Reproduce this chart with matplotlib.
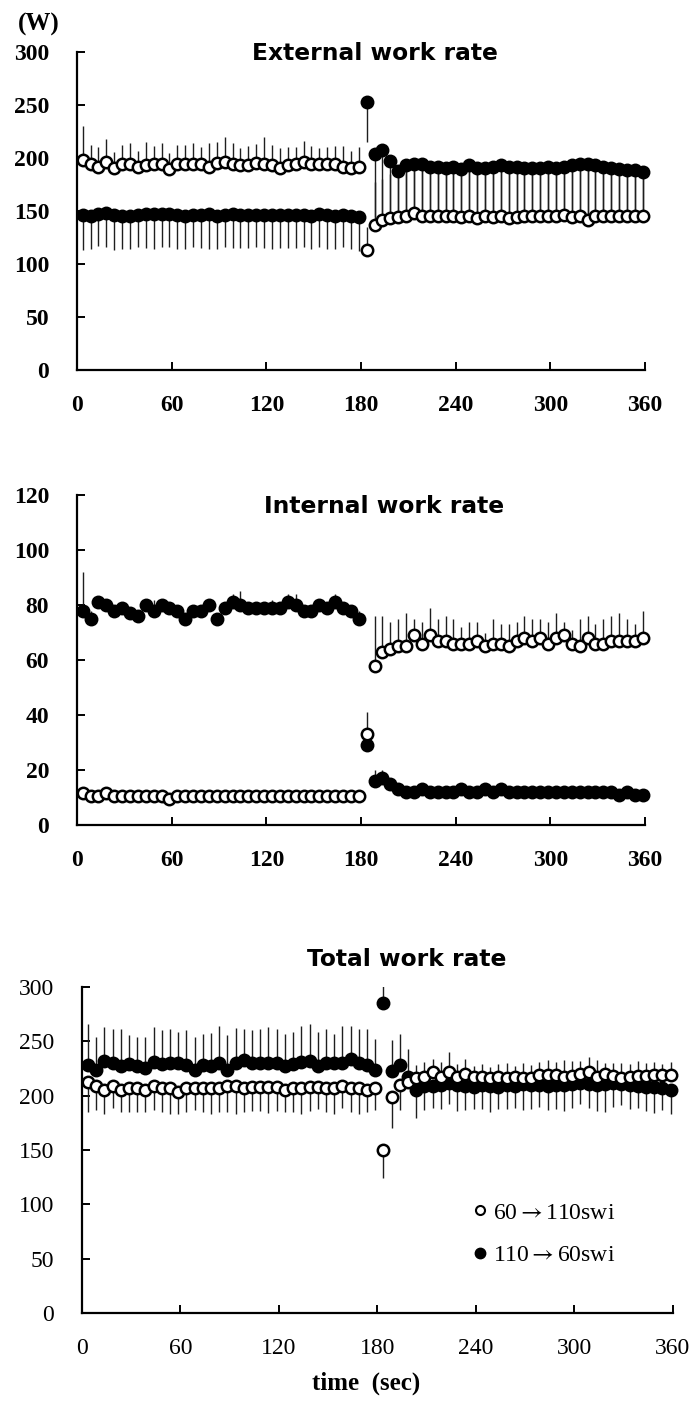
import matplotlib.pyplot as plt
import numpy as np
from matplotlib.lines import Line2D

plt.rcParams['font.family'] = ['Liberation Serif', 'DejaVu Serif']
plt.rcParams['mathtext.fontset'] = 'stix'

# sampling times (s), one point every 5 s
time_s = np.arange(3.6, 360, 5)

# External work rate (W); sd > 0 drawn upward, sd < 0 drawn downward
ext_open = [198, 194, 192, 196, 191, 194, 194, 192, 193, 194, 194, 190, 194, 194, 194, 194, 192, 195,
            196, 194, 193, 193, 195, 194, 193, 191, 193, 194, 196, 194, 194, 194, 194, 192, 191, 192,
            113, 137, 142, 143, 144, 145, 148, 145, 145, 145, 145, 145, 144, 145, 143, 145, 144, 145,
            143, 144, 145, 145, 145, 145, 145, 146, 144, 145, 142, 145, 145, 145, 145, 145, 145, 145]
ext_open_sd = [32, 18, 18, 22, 15, 18, 20, 15, 22, 17, 20, 15, 18, 18, 20, 16, 22, 20,
               24, 20, 16, 18, 18, 26, 19, 18, 17, 16, 20, 17, 15, 16, 17, 19, 16, 18,
               22, 40, 38, 42, 44, 45, 44, 46, 45, 46, 44, 45, 46, 45, 47, 45, 46, 45,
               47, 46, 45, 46, 45, 46, 45, 44, 46, 45, 47, 45, 44, 45, 44, 43, 42, 42]
ext_fill = [146, 145, 147, 148, 146, 145, 145, 146, 147, 147, 147, 147, 146, 145, 146, 146, 147, 145,
            146, 147, 146, 146, 146, 146, 146, 146, 146, 146, 146, 145, 147, 146, 145, 146, 145, 144,
            253, 204, 208, 197, 188, 193, 194, 194, 192, 192, 191, 192, 190, 193, 191, 191, 192, 193,
            192, 192, 191, 191, 191, 192, 191, 192, 193, 194, 194, 193, 192, 191, 190, 189, 189, 187]
ext_fill_sd = [-33, -31, -30, -32, -33, -31, -31, -30, -32, -33, -31, -31, -32, -31, -30, -31, -33, -31,
               -30, -32, -31, -31, -30, -31, -32, -31, -31, -31, -30, -31, -31, -32, -31, -30, -31, -32,
               -38, -60, -62, -52, -45, -48, -48, -48, -47, -47, -46, -47, -45, -48, -46, -46, -47, -48,
               -47, -47, -46, -46, -46, -47, -46, -47, -48, -49, -49, -48, -47, -46, -45, -44, -44, -42]

# Internal work rate (W)
int_open = [11.5, 10.5, 10.5, 11.5, 10.5, 10.5, 10.5, 10.5, 10.5, 10.5, 10.5, 9.5, 10.5, 10.5, 10.5, 10.5, 10.5, 10.5,
            10.5, 10.5, 10.5, 10.5, 10.5, 10.5, 10.5, 10.5, 10.5, 10.5, 10.5, 10.5, 10.5, 10.5, 10.5, 10.5, 10.5, 10.5,
            33, 58, 63, 64, 65, 65, 69, 66, 69, 67, 67, 66, 66, 66, 67, 65, 66, 66,
            65, 67, 68, 67, 68, 66, 68, 69, 66, 65, 68, 66, 66, 67, 67, 67, 67, 68]
int_open_sd = [1, 0, 0, 1, 0, 0, 0, 0, 0, 0, 0, 0, 0, 0, 0, 0, 0, 0,
               0, 0, 0, 0, 0, 0, 0, 0, 0, 0, 0, 0, 0, 0, 0, 0, 0, 0,
               8, 18, 13, 10, 10, 12, 6, 8, 10, 8, 9, 9, 6, 8, 7, 5, 9, 7,
               8, 7, 8, 8, 7, 8, 9, 5, 5, 10, 8, 7, 9, 9, 10, 8, 6, 10]
int_fill = [78, 75, 81, 80, 78, 79, 77, 76, 80, 78, 80, 79, 78, 75, 78, 78, 80, 75,
            79, 81, 80, 79, 79, 79, 79, 79, 81, 80, 78, 78, 80, 79, 81, 79, 78, 75,
            29, 16, 17, 15, 13, 12, 12, 13, 12, 12, 12, 12, 13, 12, 12, 13, 12, 13,
            12, 12, 12, 12, 12, 12, 12, 12, 12, 12, 12, 12, 12, 12, 11, 12, 11, 11]
int_fill_sd = [14, 3, 1, 1, 1, 1, 1, 1, 1, 4, 1, 1, 1, 1, 1, 1, 1, 1,
               1, 3, 5, 2, 2, 2, 3, 1, 3, 4, 1, 1, 2, 2, 3, 2, 1, 3,
               0, 4, 3, 1, 0, 0, 0, 0, 0, 0, 0, 0, 0, 0, 0, 0, 0, 0,
               0, 0, 0, 0, 0, 0, 0, 0, 0, 0, 0, 0, 0, 0, 0, 0, 0, 0]

# Total work rate (W)
tot_open = [213, 209, 205, 209, 205, 207, 207, 205, 209, 207, 207, 203, 207, 207, 207, 207, 207, 209,
            209, 207, 208, 208, 208, 208, 205, 207, 207, 208, 208, 207, 207, 209, 207, 207, 205, 207,
            150, 199, 210, 213, 216, 217, 222, 217, 222, 217, 220, 217, 217, 216, 217, 216, 217, 216,
            216, 219, 219, 219, 217, 218, 220, 222, 217, 220, 218, 216, 217, 218, 218, 219, 219, 219]
tot_open_sd = [-28, -22, -22, -20, -20, -22, -22, -20, -22, -22, -24, -20, -22, -20, -22, -24, -22, -24,
               -26, -22, -22, -22, -24, -22, -20, -22, -24, -22, -20, -22, -24, -20, -22, -24, -20, -20,
               -26, -29, -23, 10, 12, 14, 12, 14, 18, 12, 14, 10, 12, 10, 12, 14, 10, 14,
               12, 12, 14, 12, 16, 14, 12, 14, 16, 10, 12, 14, 12, 14, 12, 12, 10, 12]
tot_fill = [228, 224, 232, 230, 227, 229, 227, 225, 231, 229, 230, 230, 228, 224, 228, 227, 230, 224,
            230, 233, 230, 230, 230, 230, 227, 229, 231, 232, 227, 230, 230, 230, 234, 230, 228, 224,
            285, 223, 228, 217, 205, 209, 209, 210, 212, 210, 209, 208, 210, 209, 208, 210, 209, 211,
            210, 210, 209, 210, 210, 211, 212, 211, 210, 211, 212, 211, 210, 209, 208, 208, 207, 205]
tot_fill_sd = [38, 30, 31, 31, 34, 27, 27, 29, 32, 31, 31, 29, 32, 30, 29, 31, 34, 32,
               32, 28, 30, 31, 33, 31, 30, 30, 33, 34, 32, 31, 27, 34, 30, 31, 33, 28,
               21, 28, 29, 26, -26, -22, -20, -22, -20, -24, -22, -20, -22, -24, -20, -22, -20, -24,
               -22, -20, -22, -22, -24, -22, -20, -22, -24, -26, -22, -20, -22, -20, -22, -24, -20, -22]

legend_labels = [r'60$\rightarrow$110swi', r'110$\rightarrow$60swi']
x_ticks = [0, 60, 120, 180, 240, 300, 360]

SANS = ['DejaVu Sans']


def draw_panel(ax, open_y, open_sd, fill_y, fill_sd, ymax, ystep, title, title_xy, tick_weight):
    for y, sd in [(open_y, open_sd), (fill_y, fill_sd)]:
        sd = np.asarray(sd, dtype=float)
        lo = np.clip(-sd, 0, None)
        hi = np.clip(sd, 0, None)
        ax.errorbar(time_s, y, yerr=[lo, hi], fmt='none', ecolor='#1e1e1e',
                    elinewidth=1.0, capsize=0, zorder=2)
    ax.plot(time_s, fill_y, 'o', ms=8.8, mfc='black', mec='black', mew=1.2,
            zorder=3, clip_on=False)
    ax.plot(time_s, open_y, 'o', ms=8.2, mfc='white', mec='black', mew=1.8,
            zorder=4, clip_on=False)

    ax.set_xlim(0, 360)
    ax.set_ylim(0, ymax)
    ax.set_xticks(x_ticks)
    ax.set_yticks(np.arange(0, ymax + 1, ystep))
    for s in ['top', 'right']:
        ax.spines[s].set_visible(False)
    for s in ['left', 'bottom']:
        ax.spines[s].set_linewidth(1.6)
    ax.tick_params(direction='in', length=5.5, width=1.4, labelsize=17)
    ax.tick_params(axis='x', pad=18)
    ax.tick_params(axis='y', pad=20)
    for lab in ax.get_xticklabels() + ax.get_yticklabels():
        lab.set_fontweight(tick_weight)
    ax.text(title_xy[0], title_xy[1], title, transform=ax.transAxes, ha='center',
            va='center', fontsize=16.8, fontweight='bold', family=SANS)


fig = plt.figure(figsize=(6.96, 14.14), dpi=100)
ax1 = fig.add_axes([0.1106, 0.7383, 0.8161, 0.2249])
ax2 = fig.add_axes([0.1106, 0.4165, 0.8161, 0.2334])
ax3 = fig.add_axes([0.1178, 0.0714, 0.8491, 0.2306])

draw_panel(ax1, ext_open, ext_open_sd, ext_fill, ext_fill_sd, 300, 50,
           'External work rate', (0.525, 0.994), 'bold')
draw_panel(ax2, int_open, int_open_sd, int_fill, int_fill_sd, 120, 20,
           'Internal work rate', (0.54, 0.964), 'bold')
draw_panel(ax3, tot_open, tot_open_sd, tot_fill, tot_fill_sd, 300, 50,
           'Total work rate', (0.55, 1.083), 'normal')

fig.text(0.055, 0.983, '(W)', fontsize=18, fontweight='bold', ha='center', va='center')
ax3.text(0.48, -0.215, 'time  (sec)', transform=ax3.transAxes, ha='center', va='center',
         fontsize=18, fontweight='bold')

handles = [Line2D([], [], ls='none', marker='o', ms=6.5, mfc='white', mec='black', mew=1.5),
           Line2D([], [], ls='none', marker='o', ms=7.5, mfc='black', mec='black')]
ax3.legend(handles, legend_labels, loc='upper left', bbox_to_anchor=(0.662, 0.34),
           frameon=False, handlelength=0.6, handletextpad=0.25, labelspacing=0.9,
           borderpad=0, borderaxespad=0, prop={'size': 17})

fig.savefig('out.png', dpi=100)
